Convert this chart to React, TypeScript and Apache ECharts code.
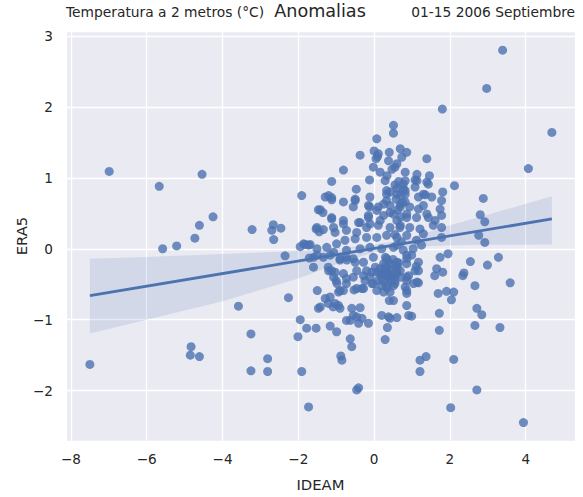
import React, { useEffect, useRef } from "react";
import * as echarts from "echarts";

// IDEAM (x) and ERA5 (y) anomaly values
const ideam: number[] = [
  -7.5, -6.99, -5.67, -4.54, -4.25, -4.61, -4.73, -5.21, -5.58, -3.22, -2.7, -2.66, -2.46, -1.91, -1.47, -1.53,
  -2.65, -2.35, -1.95, -1.82, -1.69, -1.71, -1.6, -2.26, -3.58, -1.5, -1.47, -1.95, -1.78, -1.53, -2.01, -3.25,
  -4.83, -4.85, -4.61, -2.81, -3.25, -2.81, -1.91, -1.73,
  3.39, 2.97, 1.8, 4.69, 4.07, 2.12, 2.88, 2.8, 2.92, 1.39, -0.37, -0.81, -1.12, 0.07, 0.51, 0.51,
  0.0, 0.09, 0.4, 0.69, 0.86, 0.73, 0.38, 0.55, -0.02, 0.16, -0.12, 0.34, 1.13, 1.46, 0.82, 1.08,
  1.43, 0.29, 0.77, 0.82, 1.81, 1.78, 1.74, 1.78, 1.61, 1.43, 1.17, 1.52, 1.3, 1.08, 0.42, 0.33,
  0.11, -0.11, -0.15, -0.47, -0.5, -0.55, -0.81, -1.12, -1.2, -1.42, -1.35, -1.12, -0.81, -0.41, -0.15, -0.11,
  0.16, 0.42, 0.69, 0.82, 0.86, 0.6, 0.94, 1.21, 1.56, 1.78, -1.45, -1.07,
  0.11, 0.05, 0.6, 0.47, 0.33, 0.82, 1.13, 0.77, 1.39, 1.35, -1.29, -1.12, 0.82,
  -0.5, -0.12, 0.33, 0.6, 1.17, 0.25, 0.42, 0.69, 0.94, 1.3, 1.39, 1.12, 0.86, 0.51, 0.25, 0.07,
  -0.15, -0.37, -0.81, -1.12, -1.51, -1.34, -1.86, -1.73, -1.03, -0.73, -0.46, -0.2, 0.11, 0.42, 0.69, 1.3,
  1.12, 0.86, 0.6, 0.33, 0.07, -0.2, -0.5, -0.77, -0.99, -1.25, -1.51, -1.07, -0.73, -0.37, -0.11, 0.2,
  0.51, 0.77, 1.03, 1.25, -1.34, -0.9, -0.55, -0.28, -0.02, 0.33, 0.6, 0.86, 1.17, -1.2, -0.81, -0.46,
  -0.06, 0.07, 0.33, 0.6, 0.91, 1.17, -0.73, -0.24, -0.02, 0.25, 0.51, 0.82, 1.13, -0.9, -0.46, 0.07,
  0.42, 0.86,
  -1.6, -1.42, -1.29, -1.21, -1.08, -0.9, -1.16, -0.99, -0.59, -0.37, -0.73, -0.55, -0.41, -0.32, -0.15, -0.63,
  -0.59, -0.88, -0.85, -0.41, -0.46, 0.2, 0.38, 0.6, 0.35, 0.29, 0.4, 0.86, 0.99, 1.17, 1.11, 1.65,
  1.6, 1.81, 1.74, 1.95, 1.69, 1.91, 2.1, 2.04, 1.72, 1.72, 1.21, 1.37, 1.21, 2.1, 2.02, 2.71,
  3.94, 3.32, 2.66, 2.71, 2.84, 2.66, 3.59, 3.28, 2.99, 2.54, 2.37, 2.34, 2.76, 2.92, 1.78, 0.91,
  -0.81, -0.94, -0.53, -0.32, -0.73, -0.55, -1.0, -1.12, -1.21, 0.25, 0.86, 0.55, 0.32, 0.09, -0.11, -0.2,
  0.03, 0.25, 0.47, 0.6, 0.38, 0.16, 0.2, 0.42, 0.86, 0.86, 0.99, -0.9, -0.73, -1.07,
  -1.16, -1.03, -0.94, -0.46, -0.63, 0.42, 0.51, 0.86, 0.2, -0.06, -0.28, -0.98, -1.03, -0.72, -0.5, -1.5,
  -1.16, -0.28, 0.2, 0.51, 0.69, 0.86, 1.04, 1.08,
  0.3, 0.45, 0.35, 0.5, 0.6, 0.25, 0.4, 0.55, 0.15, 0.7, 0.65, 0.3, 0.45, 0.35, 0.55,
  0.6, 0.7, 0.65, 0.55, 0.75, 0.62, 0.7, 0.58, 0.68, 0.55, 0.72, 0.6,
];

const era5: number[] = [
  -1.63, 1.09, 0.88, 1.05, 0.45, 0.33, 0.15, 0.04, 0.0, 0.27, 0.26, 0.34, 0.29, 0.75, 0.55, 0.28,
  0.13, -0.1, 0.03, 0.06, 0.06, -0.13, -0.26, -0.69, -0.81, -0.59, -0.84, -1.0, -1.12, -1.12, -1.24, -1.2,
  -1.38, -1.5, -1.52, -1.55, -1.72, -1.73, -1.73, -2.23,
  2.8, 2.26, 1.97, 1.64, 1.13, 0.89, 0.71, 0.48, 0.38, 1.27, 1.32, 1.11, 0.95, 1.55, 1.74, 1.63,
  1.38, 1.3, 1.36, 1.41, 1.36, 1.29, 1.24, 1.15, 1.15, 1.08, 0.97, 1.03, 1.05, 1.03, 1.08, 0.97,
  0.91, 0.96, 0.91, 0.82, 0.8, 0.68, 0.56, 0.47, 0.4, 0.44, 0.56, 0.73, 0.77, 0.87, 0.8, 0.68,
  0.59, 0.73, 0.61, 0.84, 0.68, 0.59, 0.66, 0.72, 0.75, 0.55, 0.51, 0.44, 0.4, 0.37, 0.44, 0.35,
  0.4, 0.51, 0.59, 0.66, 0.49, 0.4, 0.3, 0.28, 0.33, 0.3, 0.24, 0.3,
  1.34, 1.27, 1.2, 1.12, 0.82, 0.96, 0.96, 0.84, 0.94, 0.76, 0.73, 0.69, 0.77,
  0.7, 0.59, 0.77, 0.77, 0.73, 0.63, 0.61, 0.63, 0.59, 0.61, 0.49, 0.44, 0.44, 0.49, 0.47, 0.54,
  0.47, 0.37, 0.35, 0.42, 0.3, 0.27, 0.07, 0.05, 0.23, 0.26, 0.23, 0.3, 0.33, 0.3, 0.33, 0.21,
  0.12, 0.19, 0.16, 0.19, 0.16, 0.16, 0.14, 0.12, 0.07, 0.02, 0.0, -0.05, -0.02, 0.0, 0.02, 0.0,
  0.02, -0.02, 0.0, 0.05, -0.12, -0.16, -0.14, -0.19, -0.12, -0.14, -0.19, -0.14, -0.19, -0.31, -0.35, -0.31,
  -0.33, -0.33, -0.31, -0.35, -0.38, -0.31, -0.49, -0.45, -0.49, -0.45, -0.52, -0.54, -0.47, -0.59, -0.56, -0.59,
  -0.61, -0.59,
  -0.12, -0.82, -0.7, -0.77, -0.82, -0.84, -1.09, -1.17, -0.84, -0.83, -1.01, -0.94, -1.05, -0.98, -1.05, -1.27,
  -1.38, -1.51, -1.57, -1.96, -1.99, -0.94, -0.96, -0.97, -1.11, -1.28, -0.73, -0.8, -0.95, -0.48, -0.25, -0.28,
  -0.38, -0.33, -0.12, -0.07, -0.63, -0.6, -0.61, -0.72, -0.91, -1.15, -1.57, -1.52, -1.73, -1.56, -2.24, -1.99,
  -2.45, -1.11, -1.08, -0.84, -0.93, -0.52, -0.48, -0.12, -0.23, -0.18, -0.34, -0.38, 0.19, 0.09, 0.16, -0.94,
  -0.59, -0.61, -0.58, -0.56, -0.42, -0.4, -0.45, -0.31, -0.26, -0.61, -0.4, -0.49, -0.52, -0.45, -0.4, -0.31,
  -0.26, -0.21, -0.23, -0.31, -0.35, -0.35, -0.42, -0.42, -0.21, -0.09, -0.09, -0.14, -0.12, -0.4,
  -0.68, -0.77, -0.8, -0.96, -1.01, -0.98, -0.73, -0.63, -0.52, -0.49, -0.56, -0.49, -0.33, -0.16, -0.19, -0.09,
  -0.09, -0.38, -0.35, -0.4, -0.31, -0.45, -0.49, -0.31,
  -0.25, -0.3, -0.38, -0.15, -0.25, -0.3, -0.2, -0.35, -0.28, -0.4, -0.2, -0.12, -0.45, -0.55, -0.45,
  0.85, 0.75, 0.95, 0.9, 0.65, 0.55, 0.45, 0.7, 0.3, 0.2, 0.1, 0.05,
];

// regression line end points
const regX: number[] = [-7.5, 4.69];
const regY: number[] = [-0.66, 0.42];

// confidence band edges
const bandX: number[] = [-7.5, -6, -4, -2, -1, 0, 0.5, 1, 2, 3, 4.69];
const bandUpper: number[] = [-0.14, -0.115, -0.075, -0.03, 0.0, 0.06, 0.1, 0.16, 0.33, 0.48, 0.74];
const bandLower: number[] = [-1.195, -1.0, -0.74, -0.42, -0.22, -0.05, 0.0, 0.03, 0.05, 0.055, 0.06];

const FONT = "DejaVu Sans";
const TEXT = "#262626";

const fmt = (v: number) =>
  Math.abs(v - Math.round(v)) < 1e-6 ? String(Math.round(v)).replace("-", "\u2212") : "";

export default function App() {
  const ref = useRef<HTMLDivElement>(null);
  useEffect(() => {
    document.body.style.margin = "0";
    if (!ref.current) return;
    const chart = echarts.init(ref.current, null, { renderer: "svg" });
    const points = ideam.map((x, i) => [x, era5[i]]);
    chart.setOption({
      animation: false,
      backgroundColor: "#ffffff",
      title: [
        {
          text: "Temperatura a 2 metros (°C)",
          left: 66,
          top: 5,
          padding: 0,
          textStyle: { fontFamily: FONT, fontSize: 13.8, fontWeight: "normal", color: TEXT },
        },
        {
          text: "Anomalias",
          left: 320,
          textAlign: "center",
          top: 2,
          padding: 0,
          textStyle: { fontFamily: FONT, fontSize: 17.6, fontWeight: "normal", color: TEXT },
        },
        {
          text: "01-15 2006 Septiembre",
          right: 8,
          top: 5,
          padding: 0,
          textStyle: { fontFamily: FONT, fontSize: 13.8, fontWeight: "normal", color: TEXT },
        },
      ],
      grid: {
        left: 66,
        right: 8,
        top: 31,
        bottom: 56,
        show: true,
        backgroundColor: "#EAEAF2",
        borderWidth: 0,
      },
      xAxis: {
        type: "value",
        min: -8.13,
        max: 5.3,
        minInterval: 2,
        maxInterval: 2,
        name: "IDEAM",
        nameLocation: "middle",
        nameGap: 36,
        nameMoveOverlap: false,
        nameTextStyle: { fontFamily: FONT, fontSize: 14.8, color: TEXT },
        axisLine: { show: false },
        axisTick: { show: false },
        axisLabel: {
          formatter: fmt,
          margin: 11,
          fontFamily: FONT,
          fontSize: 13.6,
          color: TEXT,
          showMinLabel: true,
          showMaxLabel: true,
        },
        splitLine: { show: true, lineStyle: { color: "#ffffff", width: 1.3 } },
      },
      yAxis: {
        type: "value",
        min: -2.71,
        max: 3.07,
        minInterval: 1,
        maxInterval: 1,
        name: "ERA5",
        nameLocation: "middle",
        nameGap: 37,
        nameMoveOverlap: false,
        nameTextStyle: { fontFamily: FONT, fontSize: 14.8, color: TEXT },
        axisLine: { show: false },
        axisTick: { show: false },
        axisLabel: { formatter: fmt, margin: 13, fontFamily: FONT, fontSize: 13.6, color: TEXT },
        splitLine: { show: true, lineStyle: { color: "#ffffff", width: 1.3 } },
      },
      series: [
        {
          type: "scatter",
          data: points,
          symbolSize: 9,
          itemStyle: { color: "#4C72B0", opacity: 0.8 },
          z: 2,
        },
        {
          type: "custom",
          data: bandX.map((x, i) => [x, bandUpper[i], bandLower[i]]),
          encode: { x: 0, y: [1, 2] },
          z: 3,
          renderItem: (params: any, api: any) => {
            if (params.dataIndex !== 0) return null;
            const pts: number[][] = [];
            for (let i = 0; i < bandX.length; i++) pts.push(api.coord([bandX[i], bandUpper[i]]));
            for (let i = bandX.length - 1; i >= 0; i--) pts.push(api.coord([bandX[i], bandLower[i]]));
            return {
              type: "polygon",
              shape: { points: pts },
              style: { fill: "rgba(76,114,176,0.15)", stroke: "none" },
            };
          },
        },
        {
          type: "line",
          data: regX.map((x, i) => [x, regY[i]]),
          showSymbol: false,
          symbol: "none",
          lineStyle: { color: "#4C72B0", width: 2.8 },
          z: 4,
        },
      ],
    });
    return () => chart.dispose();
  }, []);
  return <div ref={ref} style={{ width: 583, height: 497 }} />;
}
